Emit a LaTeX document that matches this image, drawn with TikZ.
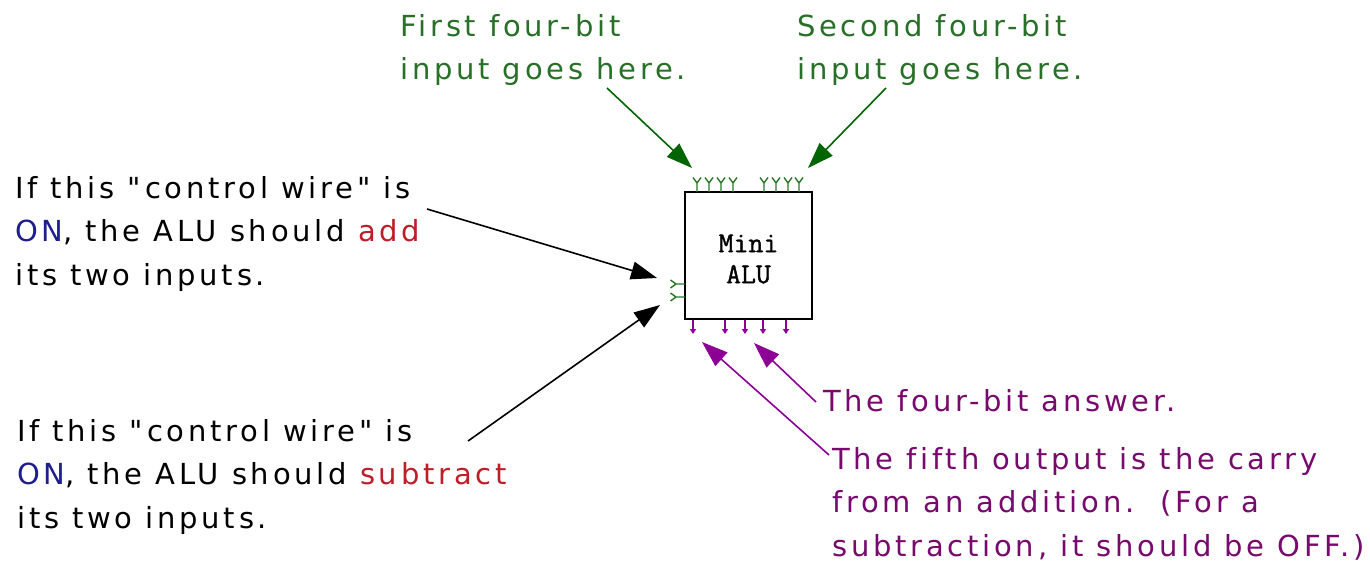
\documentclass[tikz,border=0pt]{standalone}
\usepackage{fontspec}
\usetikzlibrary{arrows.meta}
\newfontfamily\labfont[LetterSpace=13,Ligatures=CommonOff]{DejaVu Sans}
\newfontfamily\alufont[FakeBold=1.2]{Latin Modern Mono}
\definecolor{txtgreen}{RGB}{40,112,40}
\definecolor{arrgreen}{RGB}{0,100,0}
\definecolor{pingreen}{RGB}{40,120,40}
\definecolor{onblue}{RGB}{30,30,140}
\definecolor{opred}{RGB}{190,30,40}
\definecolor{txtpurple}{RGB}{120,10,110}
\definecolor{arrpurple}{RGB}{140,0,150}
\tikzset{
  lab/.style={anchor=north west, inner sep=0pt, align=left,
    font=\labfont\fontsize{29}{43.5}\selectfont},
  bigarrow/.style={line width=1.6pt, -{Triangle[length=26pt,width=18pt]}},
  inpin/.style={pingreen, line width=1.4pt},
  outpin/.style={arrpurple, line width=1.4pt, -{Triangle[length=5pt,width=6pt]}},
  alubox/.style={draw, line width=2pt, fill=white, minimum width=127pt,
    minimum height=127pt, inner sep=0pt}
}
\begin{document}
\begin{tikzpicture}[x=1pt,y=-1pt]
\useasboundingbox (0,0) rectangle (1370,565);
\fill[white] (0,0) rectangle (1370,565);

% ALU box
\node[alubox] (alu) at (748.5,255.5) {};
\node[inner sep=0pt, align=center, font=\alufont\fontsize{29}{31}\selectfont] (alulabel) at (748.5,259) {Mini\\ALU};

% top input pins
\foreach \px [count=\i] in {697,709,721,733,764,776,788,799}{
  \coordinate (tp\i) at (\px,183);
  \draw[inpin] (\px,192) -- (tp\i) (\px-4,177.5) -- (tp\i) -- (\px+4,177.5);
}
% left control pins
\foreach \py [count=\i] in {284,297}{
  \coordinate (lp\i) at (676,\py);
  \draw[inpin] (685,\py) -- (lp\i) (670.5,\py-4) -- (lp\i) -- (670.5,\py+4);
}
% bottom output pins
\foreach \px [count=\i] in {693,725,745,763,786}{
  \coordinate (bp\i) at (\px,334);
  \draw[outpin] (\px,320) -- (bp\i);
}

% texts
\node[lab, text=txtgreen] (in1) at (400,14) {First four-bit\\input goes here.};
\node[lab, text=txtgreen] (in2) at (797,14) {Second four-bit\\input goes here.};
\node[lab] (ctl1) at (15,176) {If this "control wire" is\\{\color{onblue}ON}, the ALU should {\color{opred}add}\\its two inputs.};
\node[lab] (ctl2) at (17,419) {If this "control wire" is\\{\color{onblue}ON}, the ALU should {\color{opred}subtract}\\its two inputs.};
\node[lab, text=txtpurple] (ans) at (823,389) {The four-bit answer.};
\node[lab, text=txtpurple] (carry) at (832,447) {The fifth output is the carry\\from an addition.\ \ (For a\\subtraction, it should be OFF.)};

% arrow ends
\coordinate (g1s) at (607,88);  \coordinate (g1e) at (692,168);
\coordinate (g2s) at (886,88);  \coordinate (g2e) at (808,168);
\coordinate (b1s) at (427,209); \coordinate (b1e) at (657,278);
\coordinate (b2s) at (468,441); \coordinate (b2e) at (660,305);
\coordinate (p1s) at (816,402); \coordinate (p1e) at (754,343);
\coordinate (p2s) at (829,455); \coordinate (p2e) at (702,342);

\draw[bigarrow, arrgreen] (g1s) -- (g1e);
\draw[bigarrow, arrgreen] (g2s) -- (g2e);
\draw[bigarrow, black] (b1s) -- (b1e);
\draw[bigarrow, black] (b2s) -- (b2e);
\draw[bigarrow, arrpurple] (p1s) -- (p1e);
\draw[bigarrow, arrpurple] (p2s) -- (p2e);
\end{tikzpicture}
\end{document}
